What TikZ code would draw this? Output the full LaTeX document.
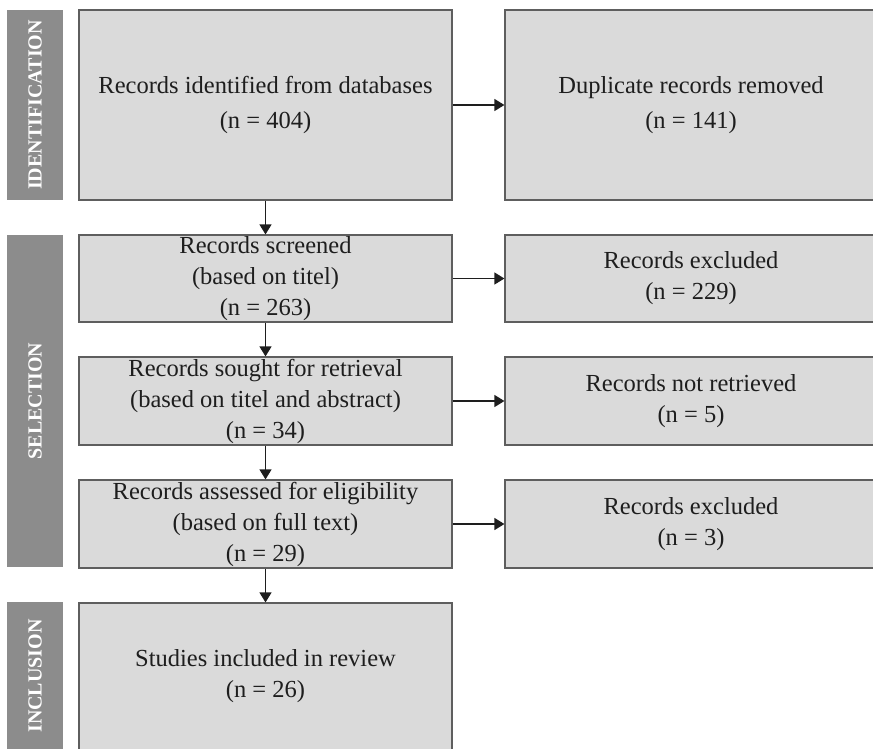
\documentclass[tikz,border=0pt]{standalone}
\usepackage{fontspec}
\setmainfont{Liberation Serif}
\usetikzlibrary{arrows.meta}

\definecolor{boxgray}{HTML}{DADADA}
\definecolor{bargray}{HTML}{8C8C8C}
\definecolor{linegray}{HTML}{5E5E5E}
\definecolor{inkgray}{HTML}{1E1E1E}

\tikzstyle{box}=[rectangle,draw=linegray,line width=1.2pt,fill=boxgray,inner sep=0pt,text=inkgray,align=center,font=\fontsize{24.5}{31}\selectfont]
\tikzstyle{left box}=[box,minimum width=373pt]
\tikzstyle{right box}=[box,minimum width=372pt]
\tikzstyle{phase}=[rectangle,fill=bargray,text=white,rotate=90,inner sep=0pt,minimum height=56pt,font=\fontsize{20}{24}\selectfont\bfseries]
\tikzstyle{edge}=[draw,line width=1.3pt,inkgray,-{Triangle[width=12pt,length=10pt]}]

\begin{document}
\begin{tikzpicture}[x=1pt,y=-1pt]
    \useasboundingbox (0,0) rectangle (873,748);
    % Phase bars on the left
    \foreach \pos/\name/\len/\txt in {{(35,105)/ident/190/IDENTIFICATION},
        {(35,401)/select/332/SELECTION},{(35,676)/incl/148/INCLUSION}}
    \node[phase,minimum width=\len pt] (\name) at \pos {\txt};
    % Main column
    \foreach \pos/\name/\h/\txt in {
        {(265.5,105)/found/190/{Records identified from databases\\[4pt](n = 404)}},
        {(265.5,278.5)/screened/87/{Records screened\\(based on titel)\\(n = 263)}},
        {(265.5,401)/sought/88/{Records sought for retrieval\\(based on titel and abstract)\\(n = 34)}},
        {(265.5,524)/assessed/88/{Records assessed for eligibility\\(based on full text)\\(n = 29)}},
        {(265.5,676.5)/included/147/{Studies included in review\\(n = 26)}}}
    \node[left box,minimum height=\h pt] (\name) at \pos {\txt};
    % Side column
    \foreach \pos/\name/\h/\txt in {
        {(691,105)/duplicates/190/{Duplicate records removed\\[4pt](n = 141)}},
        {(691,278.5)/excluded/87/{Records excluded\\(n = 229)}},
        {(691,401)/missing/88/{Records not retrieved\\(n = 5)}},
        {(691,524)/ineligible/88/{Records excluded\\(n = 3)}}}
    \node[right box,minimum height=\h pt] (\name) at \pos {\txt};
    % Connect boxes
    \foreach \source/ \dest in {found/screened,screened/sought,sought/assessed,assessed/included}
    \path[edge] (\source) -- (\dest);
    \foreach \source/ \dest in {found/duplicates,screened/excluded,sought/missing,assessed/ineligible}
    \path[edge] (\source) -- (\dest);
\end{tikzpicture}
\end{document}
